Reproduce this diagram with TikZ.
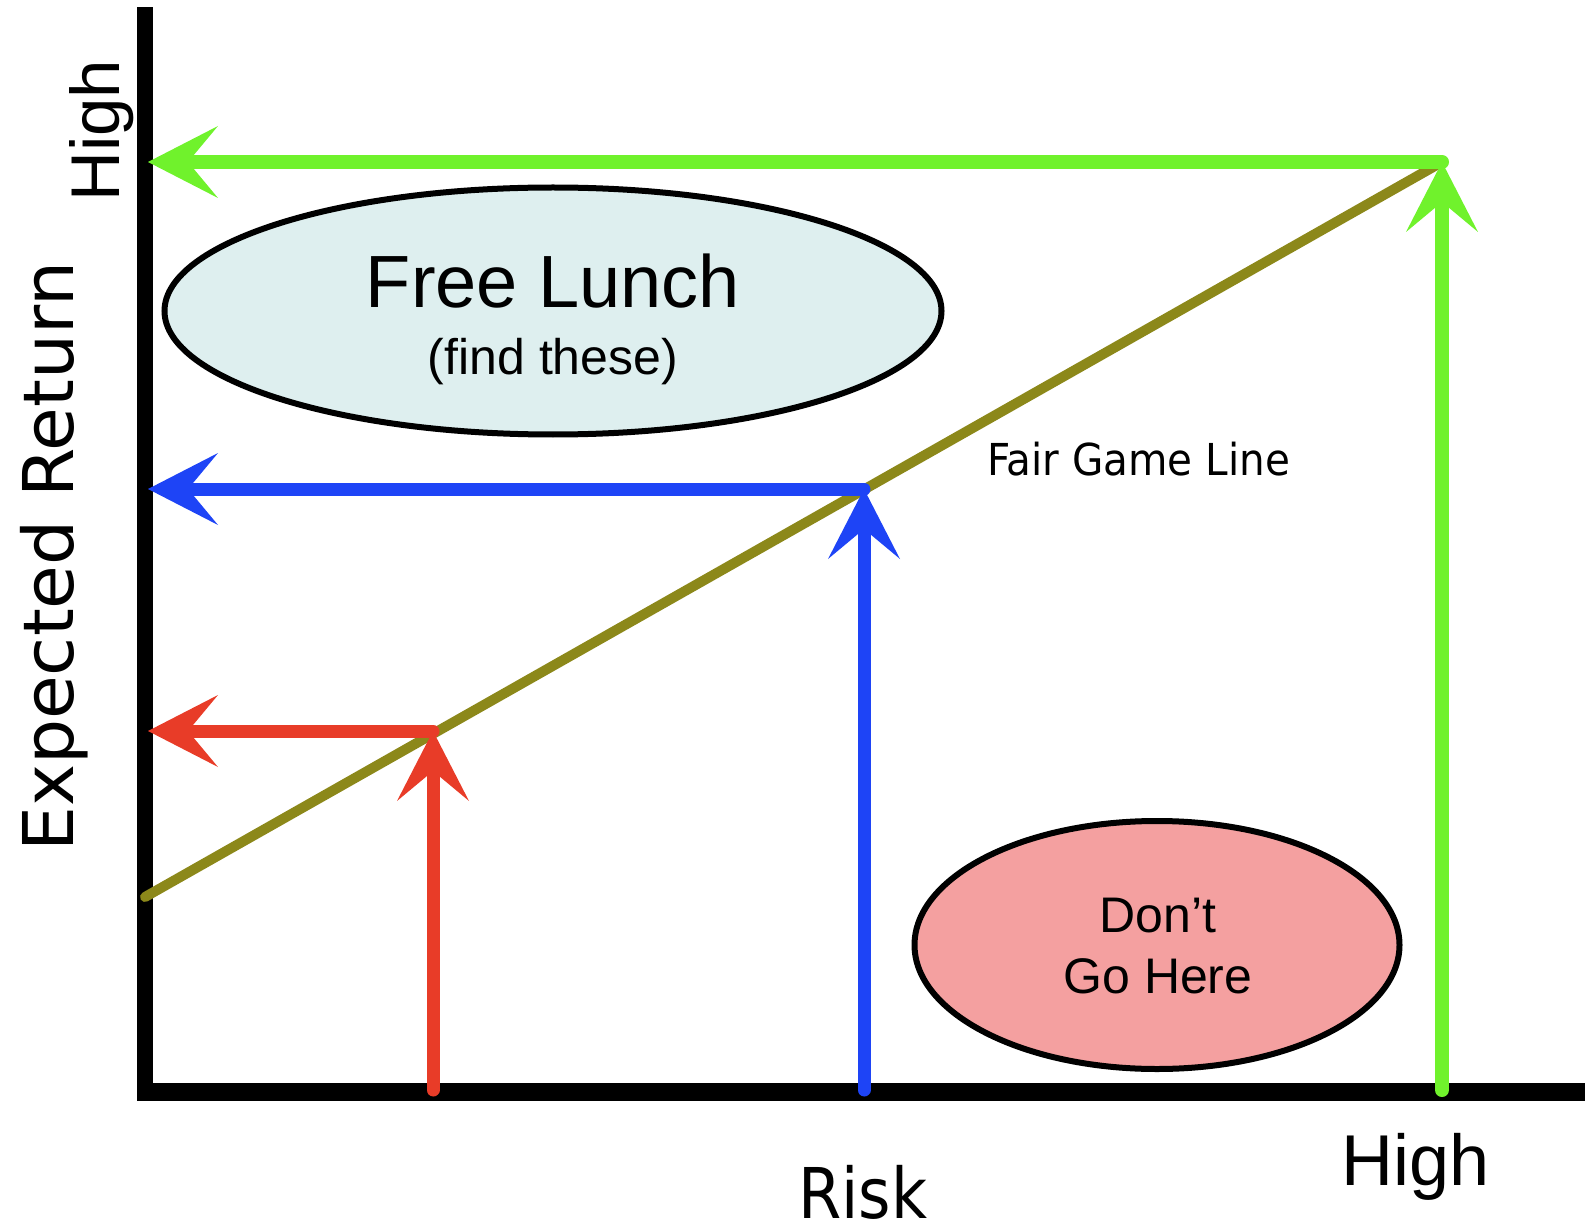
\documentclass[tikz,border=0pt]{standalone}
\usepackage{fontspec}
\setmainfont{Liberation Sans}
\newfontfamily\labelfont{DejaVu Sans}
\usetikzlibrary{arrows.meta,shapes.geometric}

\definecolor{gainlime}{RGB}{112,242,44}
\definecolor{gainblue}{RGB}{30,68,246}
\definecolor{gainred}{RGB}{232,60,40}
\definecolor{fairolive}{RGB}{140,136,26}
\definecolor{lunchfill}{RGB}{222,239,239}
\definecolor{dangerfill}{RGB}{244,160,160}

\begin{document}
\begin{tikzpicture}[x=1pt,y=-1pt,
  axisbar/.style={fill=black},
  pointer/.style={line cap=round,
    -{Stealth[length=70pt,width=72pt,inset=30pt,line width=0pt]}},
  region/.style={ellipse, draw=black, line width=6pt, inner sep=0pt},
  txt/.style={inner sep=0pt, anchor=base},
  fairline/.style={draw=fairolive, line width=10pt, line cap=round}
]
\useasboundingbox (0,0) rectangle (1585,1230);

% axes
\fill[axisbar] (137,7) rectangle (153,1101);
\fill[axisbar] (137,1083) rectangle (1585,1101);

% corner points on the fair game line and their feet / projections
\coordinate (lo)   at (145,897);
\coordinate (hi)   at (1442,162);
\coordinate (rtop) at (433,731);
\coordinate (rbot) at (433,1090);
\coordinate (rax)  at (148,731);
\coordinate (btop) at (864,489);
\coordinate (bbot) at (864,1090);
\coordinate (bax)  at (148,489);
\coordinate (gbot) at (1442,1090);
\coordinate (gax)  at (148,162);

% fair game line
\draw[fairline] (lo) -- (hi);

% risk/return projections
\draw[pointer, draw=gainred, fill=gainred, line width=13pt] (rbot) -- (rtop);
\draw[pointer, draw=gainred, fill=gainred, line width=13pt] (rtop) -- (rax);
\draw[pointer, draw=gainblue, fill=gainblue, line width=13pt] (bbot) -- (btop);
\draw[pointer, draw=gainblue, fill=gainblue, line width=13pt] (btop) -- (bax);
\draw[pointer, draw=gainlime, fill=gainlime, line width=14pt] (gbot) -- (hi);
\draw[pointer, draw=gainlime, fill=gainlime, line width=14pt] (hi) -- (gax);

% regions
\node[region, fill=lunchfill, minimum width=777pt, minimum height=247pt] (lunch) at (553,311) {};
\node[txt, font=\fontsize{74}{80}\selectfont] (lunchtitle) at (553,308) {Free Lunch};
\node[txt, font=\fontsize{50}{56}\selectfont] (lunchnote) at (553,375) {(find these)};

\node[region, fill=dangerfill, minimum width=485pt, minimum height=248pt] (danger) at (1157,945) {};
\node[txt, font=\fontsize{50}{56}\selectfont] (dangerone) at (1158,932) {Don’t};
\node[txt, font=\fontsize{50}{56}\selectfont] (dangertwo) at (1158,993) {Go Here};

% labels
\node[txt, anchor=base west, font=\labelfont\fontsize{44}{48}\selectfont] (fairlabel) at (987,475) {\scalebox{0.92}[1]{Fair Game Line}};
\node[txt, anchor=base west, rotate=90, font=\labelfont\fontsize{70}{76}\selectfont] (ylabel) at (73,852) {\scalebox{1.015}[1]{Expected Return}};
\node[txt, anchor=base west, rotate=90, font=\fontsize{69}{75}\selectfont] (yhigh) at (119,202) {High};
\node[txt, anchor=base west, font=\labelfont\fontsize{70}{76}\selectfont] (xlabel) at (798,1218) {\smash{\scalebox{0.89}[1]{Risk}}};
\node[txt, anchor=base west, font=\fontsize{72}{78}\selectfont] (xhigh) at (1341,1185) {High};
\end{tikzpicture}
\end{document}
